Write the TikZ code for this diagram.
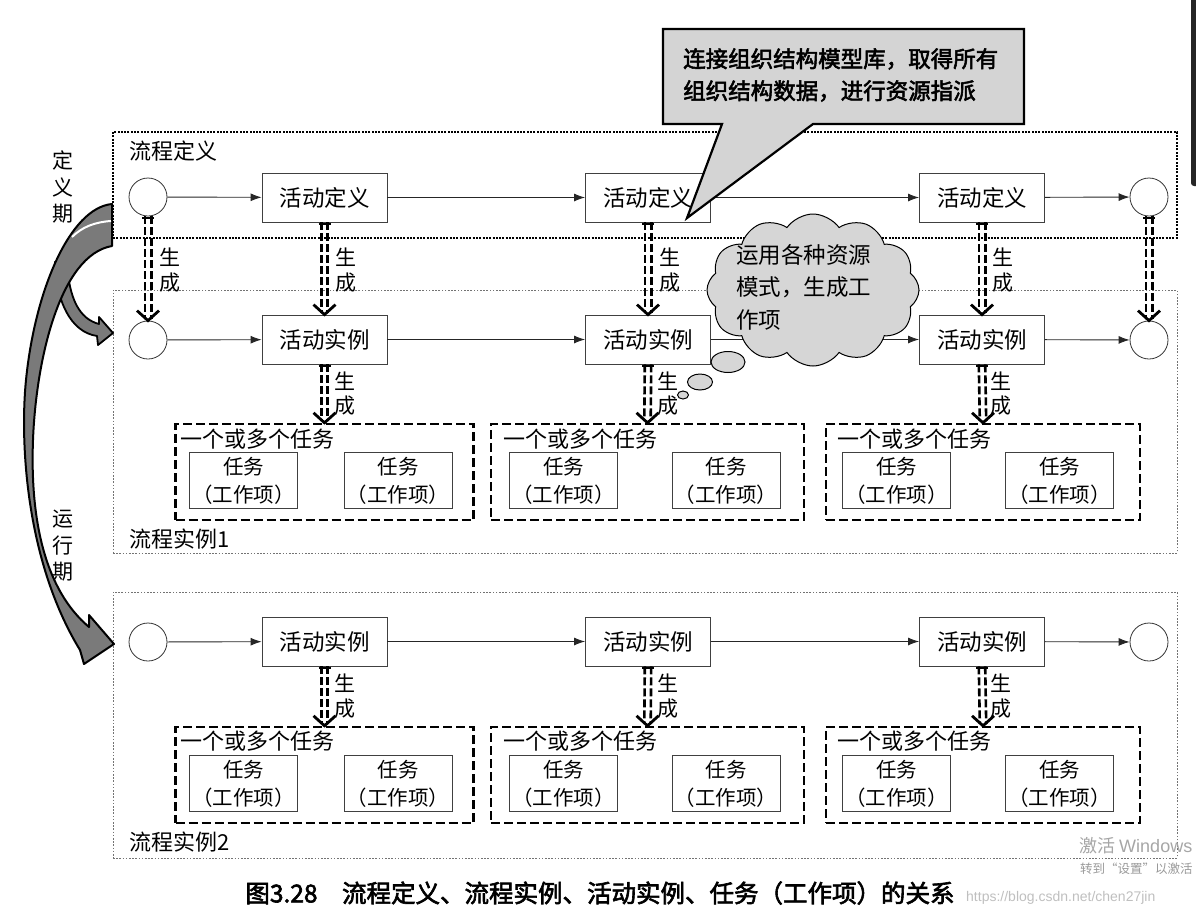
\documentclass[tikz,border=0pt]{standalone}
\usepackage{fontspec}
\setmainfont{Noto Sans CJK SC}[AutoFakeBold=2.5]
\setsansfont{Liberation Sans}
\usetikzlibrary{arrows.meta,shapes.symbols,shapes.geometric}
\newcommand\genarr[2]{%
  \draw[genh] ([xshift=-6pt,yshift=-1.5pt]#1) -- ([xshift=6pt,yshift=-1.5pt]#1);
  \draw[genl] ([xshift=-3.2pt]#1) -- ([xshift=-3.2pt,yshift=2pt]#2);
  \draw[genl] ([xshift=3.2pt]#1) -- ([xshift=3.2pt,yshift=2pt]#2);
  \draw[genh] ([xshift=-11pt,yshift=10pt]#2) -- (#2) -- ([xshift=11pt,yshift=10pt]#2);}
\begin{document}
\begin{tikzpicture}[x=1pt,y=-1pt,
  font=\fontsize{22}{26}\selectfont,
  circ/.style={circle, draw=black!80, line width=0.8pt, minimum size=38pt, inner sep=0pt, fill=white},
  act/.style={draw=black!75, line width=0.8pt, minimum width=125pt, minimum height=49pt, fill=white, inner sep=0pt, font=\fontsize{22.5}{26}\selectfont},
  task/.style={draw=black!75, line width=0.8pt, minimum width=108pt, minimum height=56pt, align=center, inner sep=0pt, font=\fontsize{20.5}{28}\selectfont},
  grp/.style={draw=black, line width=2.4pt, dash pattern=on 9pt off 4pt, minimum height=96pt, inner sep=0pt},
  defbox/.style={draw=black, line width=2.2pt, dash pattern=on 2pt off 1.3pt, inner sep=0pt},
  insbox/.style={draw=black!55, line width=0.8pt, dash pattern=on 1.6pt off 1.6pt, inner sep=0pt},
  flow/.style={draw=black!85, line width=0.9pt, -{Latex[length=11pt,width=8pt]}},
  genl/.style={draw=black, line width=2.6pt, dash pattern=on 8pt off 3pt},
  genh/.style={draw=black, line width=2.8pt, line join=miter},
  lbl/.style={font=\fontsize{21}{24}\selectfont, inner sep=0pt},
  grplbl/.style={anchor=west, font=\fontsize{22}{26}\selectfont, inner sep=0pt},
  bub/.style={draw=black, line width=1pt, fill=black!16}
]
\useasboundingbox (0,0) rectangle (1196,913);

% containers
\node[defbox, minimum width=1064pt, minimum height=106pt] (pd) at (645,185) {};
\node[insbox, minimum width=1064pt, minimum height=263pt] (pi1) at (645,421.5) {};
\node[insbox, minimum width=1064pt, minimum height=266pt] (pi2) at (645,725) {};
\node[anchor=west, inner sep=0pt] (pdl) at (129,151) {流程定义};
\node[anchor=west, inner sep=0pt] (pi1l) at (129,539) {流程实例1};
\node[anchor=west, inner sep=0pt] (pi2l) at (129,842) {流程实例2};

% row 1: definitions
\node[circ] (d0) at (148,197) {};
\node[act] (d1) at (324.5,197.5) {活动定义};
\node[act] (d2) at (648,197.5) {活动定义};
\node[act] (d3) at (982,197.5) {活动定义};
\node[circ] (d4) at (1149,197) {};
\draw[flow] (d0) -- (d1);
\draw[flow] (d1) -- (d2);
\draw[flow] (d2) -- (d3);
\draw[flow] (d3) -- (d4);

% row 2: instance 1
\node[circ] (a0) at (148,340) {};
\node[act] (a1) at (324.5,339.5) {活动实例};
\node[act] (a2) at (648,339.5) {活动实例};
\node[act] (a3) at (982,339.5) {活动实例};
\node[circ] (a4) at (1149,340) {};
\draw[flow] (a0) -- (a1);
\draw[flow] (a1) -- (a2);
\draw[flow] (a2) -- (a3);
\draw[flow] (a3) -- (a4);

% row 3: instance 2
\node[circ] (b0) at (148,642) {};
\node[act] (b1) at (324.5,641.5) {活动实例};
\node[act] (b2) at (648,641.5) {活动实例};
\node[act] (b3) at (982,641.5) {活动实例};
\node[circ] (b4) at (1149,642) {};
\draw[flow] (b0) -- (b1);
\draw[flow] (b1) -- (b2);
\draw[flow] (b2) -- (b3);
\draw[flow] (b3) -- (b4);

% task groups, instance 1
\node[grp, minimum width=298pt] (g11) at (324.5,472) {};
\node[grp, minimum width=313pt] (g12) at (647.5,472) {};
\node[grp, minimum width=314pt] (g13) at (983,472) {};
\node[grplbl] (g11l) at (180,439) {一个或多个任务};
\node[grplbl] (g12l) at (503,439) {一个或多个任务};
\node[grplbl] (g13l) at (837,439) {一个或多个任务};
\node[task] (t111) at (243.5,480.5) {任务\\（工作项）};
\node[task] (t112) at (398,480.5) {任务\\（工作项）};
\node[task] (t121) at (563.5,480.5) {任务\\（工作项）};
\node[task] (t122) at (726,480.5) {任务\\（工作项）};
\node[task] (t131) at (896.5,480.5) {任务\\（工作项）};
\node[task] (t132) at (1059.5,480.5) {任务\\（工作项）};

% task groups, instance 2
\node[grp, minimum width=298pt] (g21) at (324.5,775) {};
\node[grp, minimum width=313pt] (g22) at (647.5,775) {};
\node[grp, minimum width=314pt] (g23) at (983,775) {};
\node[grplbl] (g21l) at (180,741) {一个或多个任务};
\node[grplbl] (g22l) at (503,741) {一个或多个任务};
\node[grplbl] (g23l) at (837,741) {一个或多个任务};
\node[task] (t211) at (243.5,783.5) {任务\\（工作项）};
\node[task] (t212) at (398,783.5) {任务\\（工作项）};
\node[task] (t221) at (563.5,783.5) {任务\\（工作项）};
\node[task] (t222) at (726,783.5) {任务\\（工作项）};
\node[task] (t231) at (896.5,783.5) {任务\\（工作项）};
\node[task] (t232) at (1059.5,783.5) {任务\\（工作项）};

% generate arrows: definition -> instance 1
\genarr{d0.south}{a0.north}
\genarr{d1.south}{a1.north}
\genarr{d2.south}{a2.north}
\genarr{d3.south}{a3.north}
\genarr{d4.south}{a4.north}
\foreach \x/\n in {170/s0,346/s1,670/s2,1003/s3}{
  \node[lbl] (\n a) at (\x,257) {生};
  \node[lbl] (\n b) at (\x,283) {成};
}
% activity instances -> task groups
\genarr{a1.south}{g11.north}
\genarr{a2.south}{g12.north}
\genarr{a3.south}{g13.north}
\genarr{b1.south}{g21.north}
\genarr{b2.south}{g22.north}
\genarr{b3.south}{g23.north}
\foreach \x/\n in {345/u1,668/u2,1001/u3}{
  \node[lbl] (\n a) at (\x,381) {生};
  \node[lbl] (\n b) at (\x,406) {成};
  \node[lbl] (\n c) at (\x,683) {生};
  \node[lbl] (\n d) at (\x,709) {成};
}

% period labels
\node[align=center, font=\fontsize{21}{26.5}\selectfont] (per1) at (63,187) {定\\义\\期};
\node[align=center, font=\fontsize{21}{26.5}\selectfont] (per2) at (63,546) {运\\行\\期};

% curved period arrows
\draw[black, line width=1.8pt, fill=black!52, line join=round]
  (67,262) .. controls (69,300) and (80,319) .. (99,324)
  -- (99,317) -- (113,333) -- (98,345) -- (97,336)
  .. controls (70,332) and (56,300) .. (55,262) -- cycle;
\draw[black, line width=2pt, fill=black!52, line join=round]
  (112,204) .. controls (70,208) and (35,290) .. (26,380)
  .. controls (20,440) and (25,560) .. (80,650)
  -- (84,664) -- (114,644) -- (89,615) -- (89,627)
  .. controls (45,590) and (30,520) .. (33,440)
  .. controls (36,360) and (60,255) .. (112,246) -- cycle;
\draw[white, line width=2pt] (111,221) .. controls (95,222) and (82,227) .. (72,237);

% callout
\draw[draw=black, line width=2.2pt, fill=black!17, line join=miter]
  (663,29) -- (1024,29) -- (1024,124) -- (813,124) -- (687,218) -- (722,124) -- (663,124) -- cycle;
\node[anchor=west, inner sep=0pt, font=\bfseries\fontsize{22.5}{26}\selectfont] (co1) at (683,59) {连接组织结构模型库，取得所有};
\node[anchor=west, inner sep=0pt, font=\bfseries\fontsize{22.5}{26}\selectfont] (co2) at (683,91) {组织结构数据，进行资源指派};

% thought cloud
\node[cloud, cloud puffs=12, cloud puff arc=110, aspect=1.45, bub, minimum width=212pt, minimum height=152pt] (cl) at (813,290) {};
\node[ellipse, bub, minimum width=34pt, minimum height=21pt, inner sep=0pt] (e1) at (728,362) {};
\node[ellipse, bub, minimum width=25pt, minimum height=16pt, inner sep=0pt] (e2) at (700,382) {};
\node[ellipse, bub, minimum width=11pt, minimum height=8pt, inner sep=0pt] (e3) at (683,395) {};
\node[anchor=north west, align=left, inner sep=0pt, font=\fontsize{22.5}{32.5}\selectfont] (clt) at (736,244) {运用各种资源\\模式，生成工\\作项};

% caption
\node[font=\bfseries\fontsize{24.5}{28}\selectfont, inner sep=0pt] (cap) at (600,893) {图3.28\quad 流程定义、流程实例、活动实例、任务（工作项）的关系};

% screenshot overlays
\fill[black!85, rounded corners=3pt] (1191,-10) rectangle (1212,186);
\node[anchor=west, text=black!35, inner sep=0pt, font=\fontsize{18}{20}\selectfont] (wm1) at (1079,846) {激活 {\sffamily Windows}};
\node[anchor=west, text=black!40, inner sep=0pt, font=\fontsize{12.5}{14}\selectfont] (wm2) at (1080,869) {转到“设置”以激活};
\node[anchor=west, text=black!25, inner sep=0pt, font=\sffamily\fontsize{14}{16}\selectfont] (wm3) at (966,898) {https://blog.csdn.net/chen27jin};
\end{tikzpicture}
\end{document}
